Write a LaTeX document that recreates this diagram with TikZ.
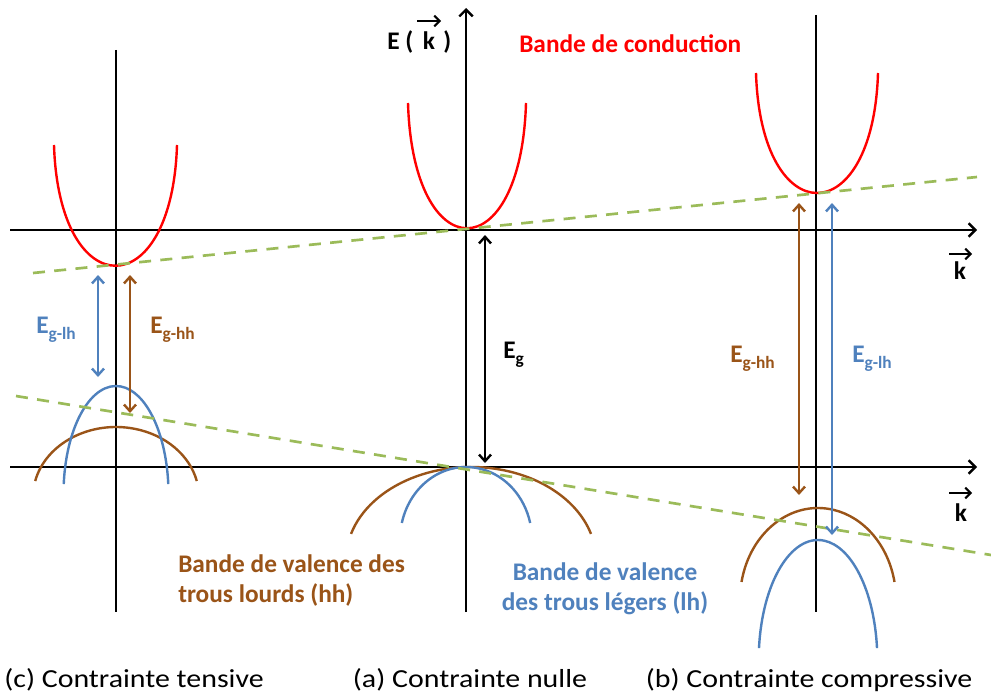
\documentclass[tikz,border=0pt]{standalone}
\usepackage{fontspec}
\setmainfont{Carlito}
\usetikzlibrary{arrows.meta}
\definecolor{cred}{HTML}{FF0000}
\definecolor{cblue}{HTML}{4F81BD}
\definecolor{cbrown}{HTML}{9A5418}
\definecolor{cgreen}{HTML}{9BBB59}
\newcommand\esub[1]{{\fontsize{13}{14}\selectfont\raisebox{-5pt}{#1}}}
\begin{document}
\begin{tikzpicture}[x=0.75pt,y=-0.75pt,
  axisline/.style={line width=2.1pt},
  axisarrow/.style={line width=2.1pt,-{Straight Barb[length=5pt,width=10pt,line width=1.8pt]}},
  dbl/.style={line width=2pt,{Straight Barb[length=5pt,width=9pt,line width=1.8pt]}-{Straight Barb[length=5pt,width=9pt,line width=1.8pt]}},
  vecarrow/.style={line width=1.6pt,-{Straight Barb[length=4pt,width=8pt,line width=1.5pt]}},
  band/.style={line width=1.8pt},
  guide/.style={line width=2pt,cgreen,dash pattern=on 9pt off 7pt},
  lbl/.style={inner sep=0pt,font=\bfseries\fontsize{19}{22.5}\selectfont},
  captext/.style={inner sep=0pt,font=\fontsize{19.5}{22}\selectfont}]
\useasboundingbox (0,0) rectangle (991,695);
\fill[white] (0,0) rectangle (991,695);

% axes
\draw[axisarrow] (10,230) -- (977,230);
\draw[axisarrow] (10,467) -- (977,467);
\draw[axisarrow] (466,612) -- (466,8);
\draw[axisline] (116,50) -- (116,612);
\draw[axisline] (816,15) -- (816,612);

% conduction bands
\draw[band,cred] (54,145) .. controls (59,306) and (172,306) .. (177,145);
\draw[band,cred] (408,103) .. controls (413,270) and (521,270) .. (526,103);
\draw[band,cred] (756,73) .. controls (761,233) and (873,233) .. (878,73);

% valence bands (c)
\draw[band,cbrown] (116,497) ++(193.2:83 and 70) arc[start angle=193.2,end angle=346.8,x radius=83,y radius=70];
\draw[band,cblue] (116,494) ++(185.3:52.5 and 108) arc[start angle=185.3,end angle=354.7,x radius=52.5,y radius=108];
% valence bands (a)
\draw[band,cbrown] (471,560) ++(196.3:125 and 93) arc[start angle=196.3,end angle=343.7,x radius=125,y radius=93];
\draw[band,cblue] (466,540) ++(193.5:66 and 73) arc[start angle=193.5,end angle=346.5,x radius=66,y radius=73];
% valence bands (b)
\draw[band,cbrown] (818,600) ++(191.3:78 and 92) arc[start angle=191.3,end angle=348.7,x radius=78,y radius=92];
\draw[band,cblue] (818,660) ++(185.7:59.3 and 120) arc[start angle=185.7,end angle=354.3,x radius=59.3,y radius=120];

% green guides
\draw[guide] (33,273) -- (977,177);
\draw[guide] (16,396) -- (991,555);

% gap arrows
\coordinate (lbA) at (98,275);  \coordinate (lbB) at (98,377);
\coordinate (lhA) at (130,275); \coordinate (lhB) at (130,413);
\coordinate (mA) at (485,235);  \coordinate (mB) at (485,463);
\coordinate (rhA) at (799,203); \coordinate (rhB) at (799,495);
\coordinate (rbA) at (832,203); \coordinate (rbB) at (832,535);
\draw[dbl,cblue] (lbA) -- (lbB);
\draw[dbl,cbrown] (lhA) -- (lhB);
\draw[dbl,black] (mA) -- (mB);
\draw[dbl,cbrown] (rhA) -- (rhB);
\draw[dbl,cblue] (rbA) -- (rbB);

% labels
\node[lbl,text=cred,anchor=base west] (cond) at (519,53) {Bande de conduction};
\node[lbl,anchor=base west] (E1) at (387,50) {E (};
\node[lbl,anchor=base] (kE) at (429,50) {k};
\node[lbl,anchor=base west] (E2) at (443,50) {)};
\draw[vecarrow] ([shift={(-12,-29)}]kE.base) -- ([shift={(12,-29)}]kE.base);

\node[lbl,anchor=base] (k1) at (960,279) {k};
\draw[vecarrow] ([shift={(-11,-25)}]k1.base) -- ([shift={(12,-25)}]k1.base);
\node[lbl,anchor=base] (k2) at (961,521) {k};
\draw[vecarrow] ([shift={(-12,-28)}]k2.base) -- ([shift={(11,-28)}]k2.base);

\node[lbl,text=cblue,anchor=base west] (Elh1) at (36,333) {E\esub{g-lh}};
\node[lbl,text=cbrown,anchor=base west] (Ehh1) at (150,333) {E\esub{g-hh}};
\node[lbl,anchor=base west] (Eg) at (503,358) {E\esub{g}};
\node[lbl,text=cbrown,anchor=base west] (Ehh2) at (730,362) {E\esub{g-hh}};
\node[lbl,text=cblue,anchor=base west] (Elh2) at (852,362) {E\esub{g-lh}};

\node[lbl,text=cbrown,anchor=base west,align=left] (hhlbl) at (178,602) {Bande de valence des\\trous lourds (hh)};
\node[lbl,text=cblue,anchor=base,align=center] (lhlbl) at (605,610) {Bande de valence\\des trous légers (lh)};

\node[captext,anchor=base] (capc) at (134,687) {\scalebox{1.15}[1]{(c) Contrainte tensive}};
\node[captext,anchor=base] (capa) at (470,687) {\scalebox{1.15}[1]{(a) Contrainte nulle}};
\node[captext,anchor=base] (capb) at (809,687) {\scalebox{1.15}[1]{(b) Contrainte compressive}};
\end{tikzpicture}
\end{document}
